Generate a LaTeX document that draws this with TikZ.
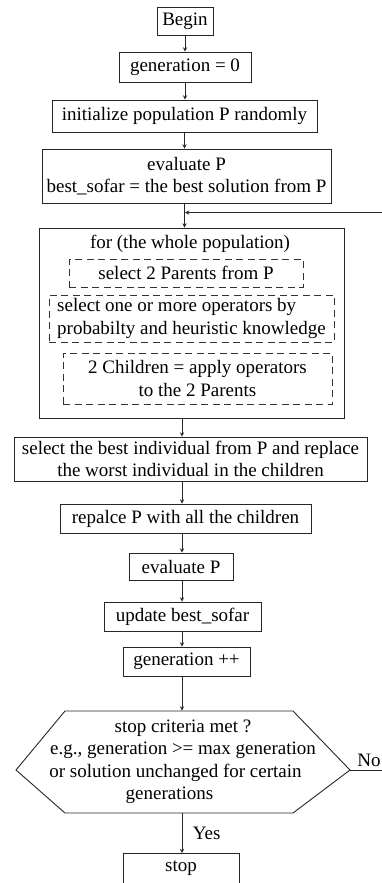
\documentclass[tikz,border=0pt]{standalone}
\usepackage{fontspec}
\setmainfont{Liberation Serif}

\begin{document}
\begin{tikzpicture}[
                x=1pt, y=-1pt,
                >=stealth,
                line width=0.9pt,
                font=\fontsize{19pt}{22.5pt}\selectfont,
                % Define styles for boxes
                process/.style={rectangle, draw=black!85, inner sep=3pt, align=center},
                subtask/.style={rectangle, draw=black!80, dash pattern=on 7pt off 4.5pt, inner sep=3pt},
                loopbox/.style={rectangle, draw=black!85},
                flow/.style={->, draw=black!85}
            ]
                \useasboundingbox (0,0) rectangle (382,883);
                \clip (0,0) rectangle (382,883);

                % Define nodes
                \node[process, minimum width=56pt, minimum height=28pt] (begin) at (185,21) {Begin};
                \node[process, minimum width=132pt, minimum height=30pt] (gen0) at (185,67) {generation = 0};
                \node[process, minimum width=265pt, minimum height=32pt] (init) at (184.5,116) {initialize population P randomly};
                \node[process, minimum width=289pt, minimum height=54pt] (evalA) at (186.5,176) {evaluate P\\best\_sofar = the best solution from P};

                \node[loopbox, minimum width=305pt, minimum height=190pt] (loop) at (191.5,323) {};
                \node (fortitle) at (190,244) {for (the whole population)};
                \node[subtask, minimum width=234pt, minimum height=28pt] (selA) at (186,273) {select 2 Parents from P};
                \node[subtask, minimum width=285pt, minimum height=47pt, align=left] (selB) at (191.5,318.5) {select one or more operators by\\probabilty and heuristic knowledge};
                \node[subtask, minimum width=269pt, minimum height=51pt, align=center] (selC) at (197.5,378.5) {2 Children = apply operators\\to the 2 Parents};

                \node[process, minimum width=353pt, minimum height=44pt] (best) at (190.5,459) {select the best individual from P and replace\\the worst individual in the children};
                \node[process, minimum width=251pt, minimum height=29pt] (repl) at (185.5,518.5) {repalce P with all the children};
                \node[process, minimum width=104pt, minimum height=27pt] (evalB) at (181,566.5) {evaluate P};
                \node[process, minimum width=157pt, minimum height=29pt] (upd) at (182.5,616.5) {update best\_sofar};
                \node[process, minimum width=127pt, minimum height=29pt] (genpp) at (186.5,661.5) {generation ++};

                % decision (hexagon drawn round the text node)
                \node[minimum width=334pt, minimum height=102pt, align=center] (check) at (183,762) {stop criteria met ?\\e.g., generation >= max generation\\or solution unchanged for certain\hbox to 15pt{}\\generations\hbox to 27pt{}};
                \coordinate (tipW) at (16,770);
                \coordinate (tipE) at (350,770);
                \draw[draw=black!85, line join=miter] (tipW) -- (65,711) -- (293,711) -- (tipE) -- (293,813) -- (65,813) -- cycle;

                \node[process, minimum width=116pt, anchor=north, text height=15pt, text depth=26pt] (stop) at (181,853) {stop};

                % Draw connections
                \coordinate (spine) at (182,0);
                \coordinate (join) at (185,212.5);
                \draw[flow] (begin) -- (gen0);
                \draw[flow] (gen0) -- (gen0 |- init.north);
                \draw[flow] (init) -- (init |- evalA.north);
                \draw[flow] (evalA.south -| init) -- (init |- loop.north);
                \draw[flow] (loop.south -| spine) -- (best.north -| spine);
                \draw[flow] (best.south -| spine) -- (repl.north -| spine);
                \draw[flow] (repl.south -| spine) -- (evalB.north -| spine);
                \draw[flow] (evalB.south -| spine) -- (upd.north -| spine);
                \draw[flow] (upd.south -| spine) -- (genpp.north -| spine);
                \draw[flow] (genpp.south -| spine) -- (check.north -| spine);
                \draw[flow] (check.south -| spine) -- node[right=7pt] {Yes} (stop.north -| spine);
                \draw[flow] (tipE) -- node[above, pos=0.38] {No} (400,770) |- (join);
            \end{tikzpicture}
\end{document}
